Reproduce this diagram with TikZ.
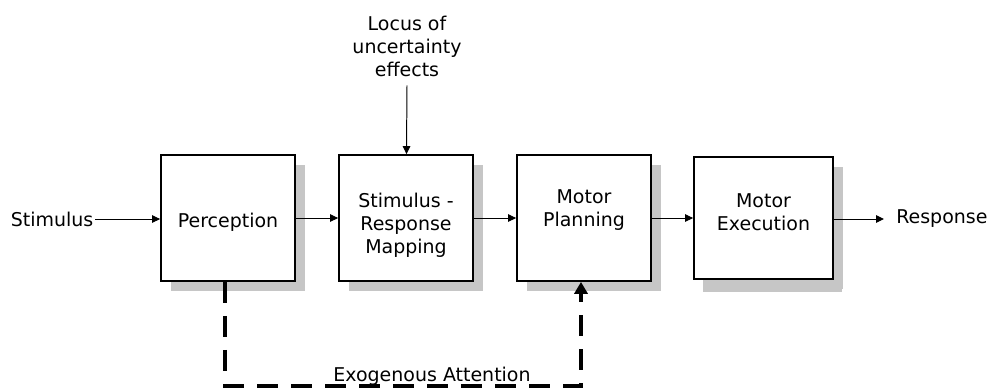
\documentclass[tikz,border=0pt]{standalone}
\usepackage{fontspec}
\setmainfont{DejaVu Sans}
\usetikzlibrary{arrows.meta,shadows,positioning}
\definecolor{shadowgray}{RGB}{198,198,198}

\begin{document}
\begin{tikzpicture}[x=0.025cm,y=-0.025cm,>={Triangle[length=0.2cm,width=0.19cm]},
  font=\fontsize{13.5pt}{16.4pt}\selectfont,
  block/.style={draw,line width=1.3pt,fill=white,
    minimum width=3.35cm,minimum height=3.15cm,
    general shadow={fill=shadowgray,shadow xshift=0.25cm,shadow yshift=-0.25cm}},
  blocktext/.style={align=center},
  flow/.style={->,line width=0.7pt},
  attn/.style={line width=3.2pt,dash pattern=on 0.52cm off 0.33cm}]
\useasboundingbox (0,0) rectangle (988,390);
\node[block] (per) at (228,218) {};
\node[block] (srm) at (406,218) {};
\node[block] (mpl) at (584,218) {};
\node[block,minimum width=3.475cm,minimum height=3.05cm,
  general shadow={fill=shadowgray,shadow xshift=0.23cm,shadow yshift=-0.32cm}] (mex) at (763.5,218) {};
\node[blocktext] (pertxt) at ([shift={(0,4)}]per.center) {Perception};
\node[blocktext] (srmtxt) at ([shift={(0,7)}]srm.center) {Stimulus -\\Response\\Mapping};
\node[blocktext] (mpltxt) at ([shift={(0,-8)}]mpl.center) {Motor\\Planning};
\node[blocktext] (mextxt) at ([shift={(0,-6)}]mex.center) {Motor\\Execution};
\node[anchor=east,inner sep=1pt] (stim) at (95,219) {Stimulus};
\node[anchor=west,inner xsep=0.3cm] (resp) at (884,219) {Response};
\node[align=center] (locus) at (407,46) {Locus of\\uncertainty\\effects};
\node[anchor=base] (exo) at (432,381) {Exogenous Attention};
\draw[flow] (stim.east) -- (stim.east -| per.west);
\draw[flow] (per) -- (srm);
\draw[flow] (srm) -- (mpl);
\draw[flow] (mpl) -- (mex);
\draw[flow] (mex.east |- resp.west) -- (resp.west);
\draw[flow] ([yshift=-0.1cm]locus.south) -- (srm);
% attention loop
\draw[attn,-{Triangle[length=0.3cm,width=0.33cm]}] ([xshift=-0.075cm]per.south) -- ++(0,104) -| ([xshift=-0.075cm]mpl.south);
\end{tikzpicture}
\end{document}
